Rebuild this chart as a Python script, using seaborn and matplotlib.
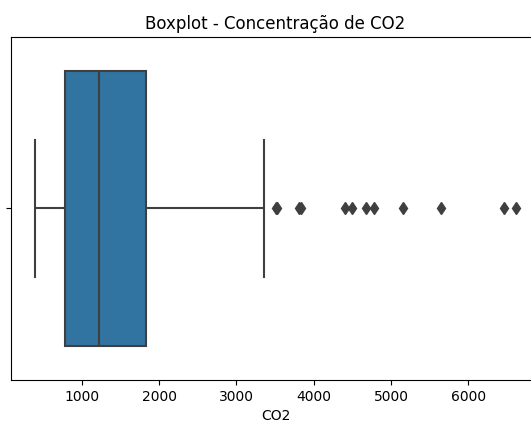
import seaborn as sns
import matplotlib.pyplot as plt

# concentracao de CO2
co2_baixo = [396, 430, 455, 480, 510, 540, 565, 590, 615, 640, 665, 690, 715, 740, 765]
co2_medio = [784, 810, 840, 870, 900, 930, 960, 990, 1020, 1050, 1080, 1110, 1140, 1170, 1195,
             1220, 1260, 1300, 1340, 1380, 1420, 1460, 1500, 1540, 1580, 1620, 1660, 1700, 1740, 1790]
co2_alto = [1828, 2150, 2700, 3358]
co2_outliers = [3510, 3530, 3810, 3830, 4410, 4495, 4675, 4785, 5150, 5645, 6465, 6615]

co2 = co2_baixo + co2_medio + co2_alto + co2_outliers

fig = plt.figure(figsize=(5.31, 4.23), dpi=100)
ax = fig.add_axes([11 / 531, 1 - 380 / 423, 529 / 531, 343 / 423])

sns.boxplot(
    x=co2,
    ax=ax,
    color="#1f77b4",
    saturation=0.75,
    linecolor="#3f3f3f",
    linewidth=1.5,
    width=0.8,
    flierprops=dict(marker="d", markerfacecolor="#3f3f3f", markeredgecolor="#3f3f3f", markersize=6),
)

ax.set_yticks([0])
ax.set_yticklabels([""])
ax.set_title("Boxplot - Concentração de CO2", fontsize=12)
ax.set_xlabel("CO2", fontsize=10)

fig.savefig("out.png", dpi=100)
